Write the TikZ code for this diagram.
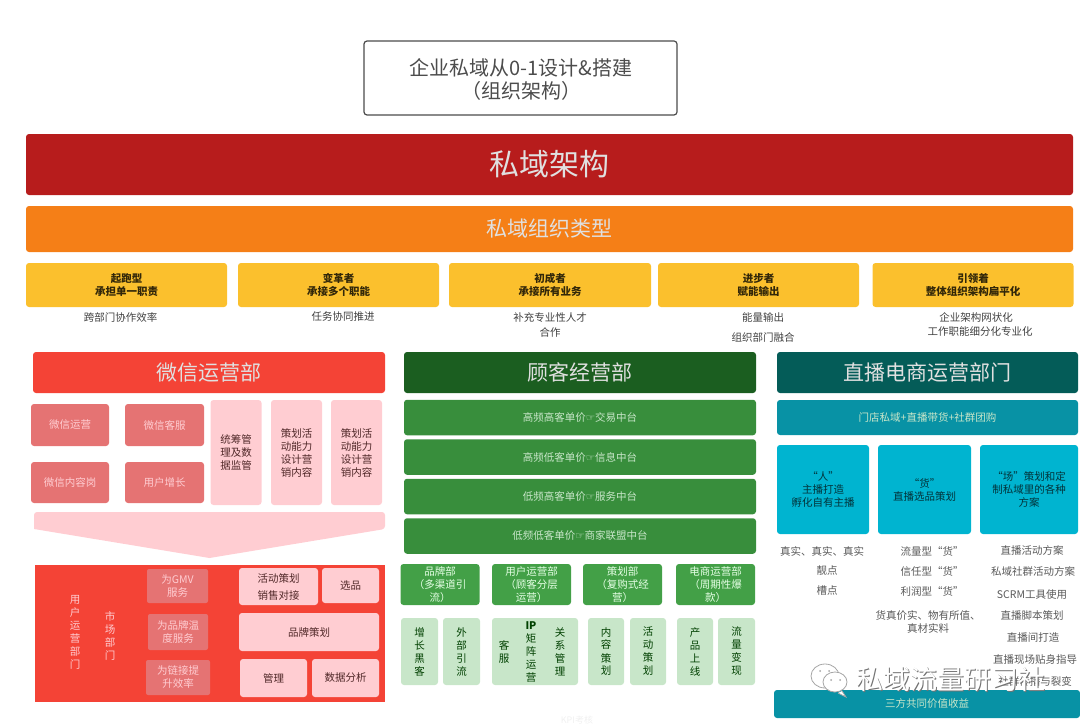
\documentclass[tikz,border=0pt]{standalone}
\usepackage{fontspec}
\setmainfont{Noto Sans CJK SC}
\newfontfamily\symfont{DejaVu Sans}
\usepackage{xcolor}
\definecolor{darkred}{HTML}{B71C1C}
\definecolor{barorange}{HTML}{F57F17}
\definecolor{cardyellow}{HTML}{FBC02D}
\definecolor{redmain}{HTML}{F44336}
\definecolor{redmid}{HTML}{E57373}
\definecolor{redpale}{HTML}{FFCDD2}
\definecolor{greendark}{HTML}{1B5E20}
\definecolor{greenmain}{HTML}{388E3C}
\definecolor{greenmid}{HTML}{43A047}
\definecolor{greenpale}{HTML}{C8E6C9}
\definecolor{tealdark}{HTML}{045C58}
\definecolor{tealmain}{HTML}{0892A5}
\definecolor{tealcard}{HTML}{00B4D0}
\newcommand{\arrowsym}{{\symfont☞}}
\tikzset{%
    wh/.style 2 args={minimum width=#1,minimum height=#2},
    plate/.style={rounded corners=3pt,inner sep=0pt,align=center},
    head/.style={plate,font=\fontsize{21}{25}\selectfont,text=white!88!black},
    rowbox/.style={plate,font=\fontsize{10.5}{13}\selectfont},
    yellowcard/.style={rowbox,fill=cardyellow,wh={201}{44},text=black!80!cardyellow,font=\fontsize{10.5}{13}\selectfont\bfseries},
    caption/.style={inner sep=0pt,align=center,font=\fontsize{10.5}{13}\selectfont,text=black!75},
    redbox/.style={rowbox,fill=redmid,text=redpale},
    pinkbox/.style={rowbox,fill=redpale,text=black!65!redmid},
    greenrow/.style={rowbox,fill=greenmain,wh={352}{35.5},text=greenpale},
    greenhead/.style={rowbox,fill=greenmid,wh={79}{41},text=white!90!green},
    greenvert/.style={rowbox,fill=greenpale,wh={37}{67},text=black!75!green},
    vertext/.style={inner sep=0pt,align=center,font=\fontsize{10.5}{13}\selectfont},
    tealcardbox/.style={rowbox,fill=tealcard,text=black!65!tealmain},
    listtext/.style={caption,text=black!65},
    bubble/.style={draw=black!35,fill=white,line width=0.8pt}
}
\begin{document}
\begin{tikzpicture}[x=1pt,y=-1pt]
\useasboundingbox (0,0) rectangle (1080,725);
% title and top bars
\node[draw=black!70,rounded corners=3pt,line width=1.2pt,wh={313}{74}] (title) at (520.5,78) {};
\node[inner sep=0pt,align=center,text=black!70,font=\fontsize{20}{23.5}\selectfont] (titletext) at (521,79.5) {企业私域从0-1设计\&搭建\\（组织架构）};
\node[plate,fill=darkred,wh={1047}{61},text=white!88!black,font=\fontsize{30}{34}\selectfont] (mainbar) at (549.5,164.5) {私域架构};
\node[plate,fill=barorange,wh={1047}{46},text=white!88!black,font=\fontsize{21}{25}\selectfont] (typebar) at (549.5,229) {私域组织类型};
% organisation types
\node[yellowcard] (qipao) at (126.5,285) {起跑型\\承担单一职责};
\node[yellowcard] (biange) at (338.5,285) {变革者\\承接多个职能};
\node[yellowcard,wh={202}{44}] (chucheng) at (550,285) {初成者\\承接所有业务};
\node[yellowcard] (jinbu) at (758.5,285) {进步者\\赋能输出};
\node[yellowcard] (yinling) at (973,285) {引领着\\整体组织架构扁平化};
\node[caption] (capa) at (120.5,317) {跨部门协作效率};
\node[caption] (capb) at (343,317) {任务协同推进};
\node[caption] (capc) at (550,317) {补充专业性人才};
\node[caption] (capd) at (550,332) {合作};
\node[caption] (cape) at (763,317) {能量输出};
\node[caption] (capf) at (763,337) {组织部门融合};
\node[caption] (capg) at (976,317) {企业架构网状化};
\node[caption] (caph) at (980,332) {工作职能细分化专业化};
% wechat department
\node[head,fill=redmain,wh={352}{41}] (redhead) at (209,372.5) {微信运营部};
\node[redbox,wh={78}{42}] (rbox1) at (70,425) {微信运营};
\node[redbox,wh={79}{42}] (rbox2) at (164.5,425) {微信客服};
\node[redbox,wh={78}{41}] (rbox3) at (70,482.5) {微信内容岗};
\node[redbox,wh={79}{41}] (rbox4) at (164.5,482.5) {用户增长};
\node[pinkbox,wh={51}{105}] (pbox1) at (236,452.5) {统筹管\\理及数\\据监管};
\node[pinkbox,wh={51}{105}] (pbox2) at (296.5,452.5) {策划活\\动能力\\设计营\\销内容};
\node[pinkbox,wh={51}{105}] (pbox3) at (356.5,452.5) {策划活\\动能力\\设计营\\销内容};
\fill[redpale] (34,529) [rounded corners=3pt] -- (34,512) -- (385,512) -- (385,529) [sharp corners] -- (209.5,558) -- cycle;
\node[fill=redmain,wh={350}{137},inner sep=0pt] (redpanel) at (209.5,633.5) {};
\node[vertext,text=redpale] (yonghu) at (75,632) {用\\户\\运\\营\\部\\门};
\node[vertext,text=redpale] (shichang) at (110,636) {市\\场\\部\\门};
\node[redbox,rounded corners=2pt,wh={61}{34}] (wei1) at (177.5,586) {为GMV\\服务};
\node[redbox,rounded corners=2pt,wh={60}{36}] (wei2) at (178,632) {为品牌温\\度服务};
\node[redbox,rounded corners=2pt,wh={64}{35}] (wei3) at (178,677.5) {为链接提\\升效率};
\node[pinkbox,wh={79}{37},font=\fontsize{10.5}{17}\selectfont] (huodong) at (278.5,586.5) {活动策划\\销售对接};
\node[pinkbox,wh={57}{35}] (xuanpin) at (350.5,585.5) {选品};
\node[pinkbox,wh={140}{38}] (pinpai) at (309,632) {品牌策划};
\node[pinkbox,wh={67}{38}] (guanli) at (273.5,678) {管理};
\node[pinkbox,wh={67}{38}] (shuju) at (345.5,678) {数据分析};
% customer department
\node[head,fill=greendark,wh={352}{41}] (greenhead) at (580,372.5) {顾客经营部};
\node[greenrow] (grow1) at (580,417.5) {高频高客单价\arrowsym 交易中台};
\node[greenrow] (grow2) at (580,457) {高频低客单价\arrowsym 信息中台};
\node[greenrow] (grow3) at (580,496.5) {低频高客单价\arrowsym 服务中台};
\node[greenrow] (grow4) at (580,536) {低频低客单价\arrowsym 商家联盟中台};
\node[greenhead] (ghead1) at (440,584.5) {品牌部\\（多渠道引\\流）};
\node[greenhead] (ghead2) at (531.5,584.5) {用户运营部\\（顾客分层\\运营）};
\node[greenhead] (ghead3) at (622.5,584.5) {策划部\\（复购式经\\营）};
\node[greenhead] (ghead4) at (715.5,584.5) {电商运营部\\（周期性爆\\款）};
\node[greenvert] (gv1) at (419.5,651.5) {增\\长\\黑\\客};
\node[greenvert] (gv2) at (461.5,651.5) {外\\部\\引\\流};
\node[greenvert,wh={86}{67}] (gv3) at (535,651.5) {};
\node[vertext,text=black!75!green] (kefu) at (504,652) {客\\服};
\node[vertext,text=black!75!green] (ipzhen) at (531,652) {\textbf{IP}\\矩\\阵\\运\\营};
\node[vertext,text=black!75!green] (guanxi) at (560,652) {关\\系\\管\\理};
\node[greenvert,wh={36}{67}] (gv4) at (606,651.5) {内\\容\\策\\划};
\node[greenvert,wh={36}{67}] (gv5) at (648,651.5) {活\\动\\策\\划};
\node[greenvert,wh={36}{67}] (gv6) at (695,651.5) {产\\品\\上\\线};
\node[greenvert,wh={37}{67}] (gv7) at (736.5,651.5) {流\\量\\变\\现};
\node[inner sep=0pt,text=black!6,font=\fontsize{9}{11}\selectfont] (kpi) at (577,720) {KPI考核};
% live commerce department
\node[head,fill=tealdark,wh={301}{41}] (tealhead) at (927.5,372.5) {直播电商运营部门};
\node[rowbox,fill=tealmain,wh={301}{35},text=greenpale] (tealrow) at (927.5,417.5) {门店私域+直播带货+社群团购};
\node[tealcardbox,wh={92}{89}] (ren) at (823,489.5) {“人”\\主播打造\\孵化自有主播};
\node[tealcardbox,wh={93}{89}] (huo) at (924.5,489.5) {“货”\\直播选品策划};
\node[tealcardbox,wh={98}{89}] (chang) at (1029,489.5) {“场”策划和定\\制私域里的各种\\方案};
\node[listtext] (la1) at (822,551) {真实、真实、真实};
\node[listtext] (la2) at (827,571) {靓点};
\node[listtext] (la3) at (827,591) {槽点};
\node[listtext] (lb1) at (932,551) {流量型“货”};
\node[listtext] (lb2) at (932,571) {信任型“货”};
\node[listtext] (lb3) at (932,591) {利润型“货”};
\node[listtext] (lb4) at (928,622) {货真价实、物有所值、\\真材实料};
\node[listtext] (lc1) at (1032,550) {直播活动方案};
\node[listtext] (lc2) at (1033,571) {私域社群活动方案};
\node[listtext] (lc3) at (1032,595) {SCRM工具使用};
\node[listtext] (lc4) at (1032,615) {直播脚本策划};
\node[listtext] (lc5) at (1033,638) {直播间打造};
\node[listtext] (lc6) at (1035,660) {直播现场贴身指导};
\node[listtext] (lc7) at (1035,681) {社群传播与裂变};
\node[rowbox,fill=tealmain,wh={306}{28},text=greenpale] (sanfang) at (927,704) {三方共同价值收益};
% watermark
\draw[bubble] (825,676) ellipse (14 and 12);
\draw[bubble] (834,692) -- (831,683) -- (842,688) -- cycle;
\draw[bubble] (835,682) ellipse (12 and 10);
\draw[bubble] (842,691) -- (846,697) -- (838,693);
\fill[black!35] (820,671) circle (1) (829,671) circle (1) (831,680) circle (1) (840,680) circle (1);
\node[inner sep=0pt,text=black!55,font=\fontsize{27}{30}\selectfont] (markback) at (952,680) {私域流量研习社};
\node[inner sep=0pt,text=white,font=\fontsize{27}{30}\selectfont] (markfront) at (951,679) {私域流量研习社};
\end{tikzpicture}
\end{document}
